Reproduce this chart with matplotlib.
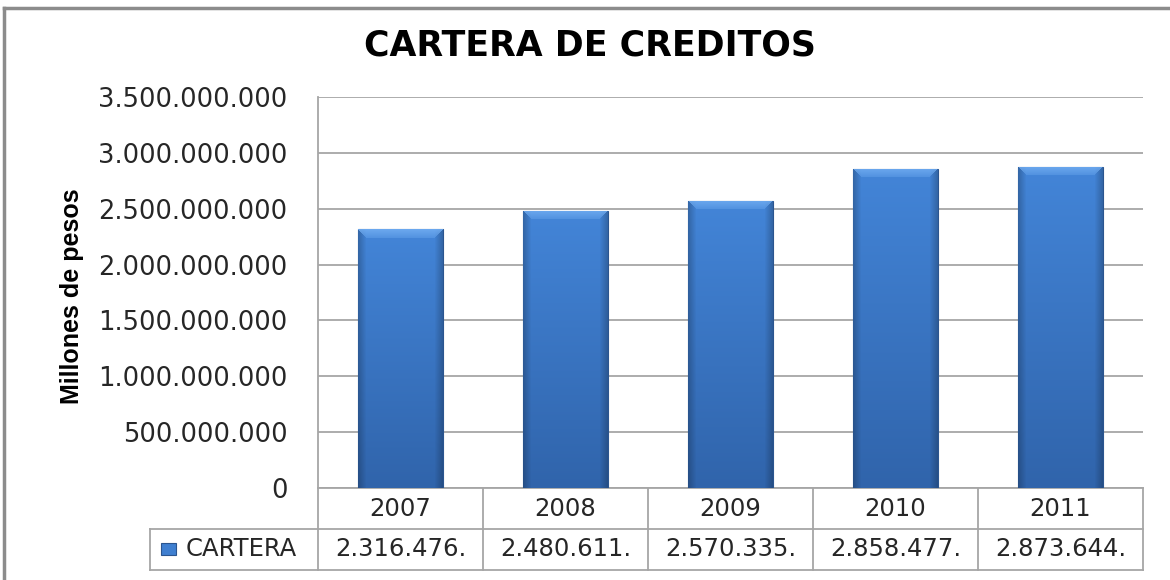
"""
Cartera de creditos 2007-2011, bar chart with data table underneath
"""

import numpy as np
import matplotlib
matplotlib.use("Agg")
import matplotlib.pyplot as plt
from matplotlib.lines import Line2D
from matplotlib.patches import Rectangle
from matplotlib.colors import to_rgb

title = "CARTERA DE CREDITOS"
y_label = "Millones de pesos"
series_name = "CARTERA"
years = ["2007", "2008", "2009", "2010", "2011"]
cartera = [2316476000, 2480611000, 2570335000, 2858477000, 2873644000]
y_ticks = [0, 500000000, 1000000000, 1500000000, 2000000000,
           2500000000, 3000000000, 3500000000]

GRID = "#a6a6a6"
TEXT = "#262626"


def miles(n):
    return f"{n:,}".replace(",", ".")


def bar_image(rows, cols=85, bevel=9):
    """gradient fill for one bar, darker at the sides, light bevel on top"""
    yy = np.linspace(0, 1, rows)[:, None, None]
    top = np.array(to_rgb("#4385d8"))
    bottom = np.array(to_rgb("#3064ab"))
    img = top * (1 - yy) + bottom * yy
    img = np.broadcast_to(img, (rows, cols, 3)).copy()
    xx = np.arange(cols)
    edge = np.clip(np.minimum(xx, cols - 1 - xx) / 8.0, 0, 1)
    img *= (0.78 + 0.22 * edge)[None, :, None]
    light = np.array(to_rgb("#72aef2"))
    for r in range(min(bevel, rows)):
        f = 0.85 - 0.55 * r / bevel
        img[r, r:cols - r] = light * f + img[r, r:cols - r] * (1 - f)
    return np.clip(img, 0, 1)


fig = plt.figure(figsize=(11.7, 5.8), dpi=100)
ax = fig.add_axes([318 / 1170, 92 / 580, 825 / 1170, 391 / 580])

x = np.arange(len(years))
bars = ax.bar(x, cartera, width=0.515, color="#3a74c2", edgecolor="#2b558f",
              linewidth=0.8, zorder=3)
ymax = y_ticks[-1]
for b in bars:
    h_px = int(round(b.get_height() / ymax * 391))
    im = ax.imshow(bar_image(h_px), extent=(b.get_x(), b.get_x() + b.get_width(),
                   0, b.get_height()), aspect="auto", interpolation="bilinear",
                   zorder=3.5)
    im.set_clip_path(b)

ax.set_xlim(-0.5, len(years) - 0.5)
ax.set_ylim(0, ymax)
ax.set_xticks([])
ax.set_yticks(y_ticks)
ax.set_yticklabels([miles(t) for t in y_ticks])
ax.tick_params(axis="y", length=0, pad=22, labelsize=18.5, labelcolor=TEXT)
ax.yaxis.grid(True, color=GRID, linewidth=1.3)
ax.set_axisbelow(True)
for side in ["top", "right", "bottom"]:
    ax.spines[side].set_visible(False)
ax.spines["left"].set_color(GRID)
ax.spines["left"].set_linewidth(1.3)

# data table under the axis
rh = 41 / 391
lab_left = (150 - 318) / 825
n = len(years)
kw = dict(transform=ax.transAxes, color=GRID, linewidth=1.3, clip_on=False)
ax.add_line(Line2D([0, 1], [0, 0], **kw))
ax.add_line(Line2D([lab_left, 1], [-rh, -rh], **kw))
ax.add_line(Line2D([lab_left, 1], [-2 * rh, -2 * rh], **kw))
ax.add_line(Line2D([lab_left, lab_left], [-rh, -2 * rh], **kw))
for i in range(n + 1):
    ax.add_line(Line2D([i / n, i / n], [0, -2 * rh], **kw))
for i, (yr, v) in enumerate(zip(years, cartera)):
    cx = (i + 0.5) / n
    ax.text(cx, -rh / 2, yr, transform=ax.transAxes, ha="center", va="center",
            fontsize=17.5, color=TEXT)
    ax.text(cx, -1.5 * rh, miles(v)[:10], transform=ax.transAxes, ha="center",
            va="center", fontsize=17.5, color=TEXT)
ax.add_patch(Rectangle(((161 - 318) / 825, (488 - 555) / 391), 15 / 825, 12 / 391,
                       transform=ax.transAxes, facecolor="#3f7fd0",
                       edgecolor="#2b558f", linewidth=0.8, clip_on=False))
ax.text((186 - 318) / 825, -1.5 * rh, series_name, transform=ax.transAxes,
        ha="left", va="center", fontsize=17.5, color=TEXT)

fig.text(590 / 1170, 1 - 46 / 580, title, ha="center", va="center",
         fontsize=25, fontweight="bold", color="black")
fig.text(72 / 1170, 1 - 296 / 580, y_label, rotation=90, ha="center", va="center",
         fontsize=18, fontweight="bold", color="black",
         family=["Liberation Sans", "DejaVu Sans"])

# chart frame (left and top edges visible)
fig.add_artist(Line2D([4 / 1170, 4 / 1170], [0, 1 - 8 / 580], transform=fig.transFigure,
                      color="#8c8c8c", linewidth=2.5))
fig.add_artist(Line2D([4 / 1170, 1], [1 - 8 / 580, 1 - 8 / 580], transform=fig.transFigure,
                      color="#8c8c8c", linewidth=2.5))

fig.savefig("out.png", dpi=100, facecolor="white")
